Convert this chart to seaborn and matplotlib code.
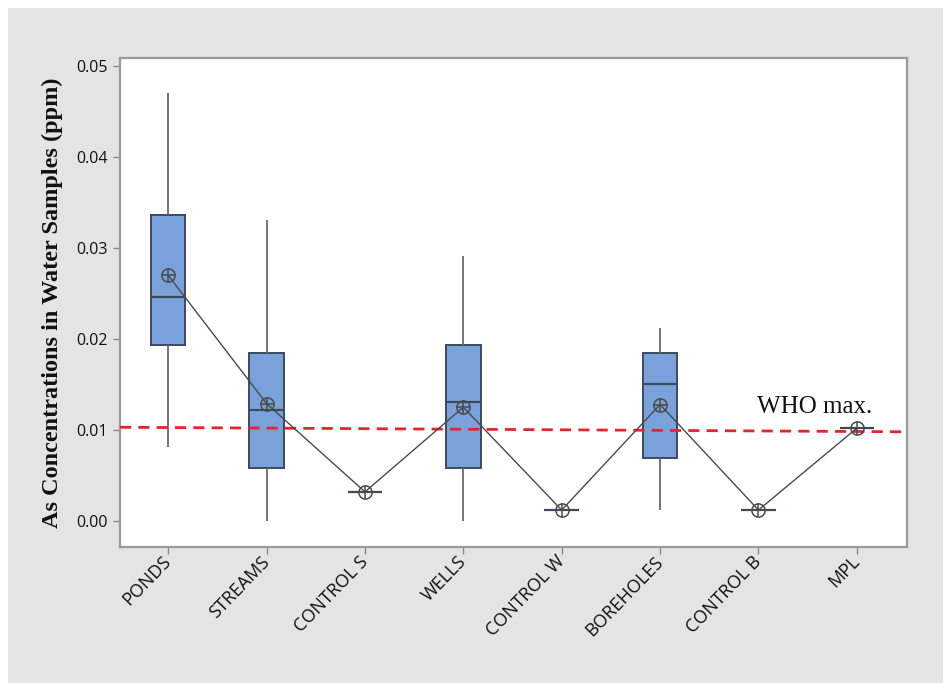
import numpy as np
import pandas as pd
import matplotlib
matplotlib.use("Agg")
import matplotlib.pyplot as plt
import matplotlib.transforms as mtransforms
from matplotlib.patches import Rectangle
import seaborn as sns

# Sampling sites
categories = ["PONDS", "STREAMS", "CONTROL S", "WELLS", "CONTROL W",
              "BOREHOLES", "CONTROL B", "MPL"]

# Five-number summaries of As concentration (ppm) per site
lower = [0.0081, 0.0000, 0.0032, 0.0000, 0.0012, 0.0012, 0.0012, 0.0102]
q1 = [0.0193, 0.0058, 0.0032, 0.0058, 0.0012, 0.0069, 0.0012, 0.0102]
median = [0.0246, 0.0122, 0.0032, 0.0131, 0.0012, 0.0151, 0.0012, 0.0102]
q3 = [0.0336, 0.0185, 0.0032, 0.0193, 0.0012, 0.0185, 0.0012, 0.0102]
upper = [0.0470, 0.0331, 0.0032, 0.0291, 0.0012, 0.0212, 0.0012, 0.0102]

# Site means
means = [0.0270, 0.0129, 0.0032, 0.0125, 0.0012, 0.0128, 0.0012, 0.0102]

# WHO maximum permissible level, as drawn across the panel (left, right)
who_line = [0.0103, 0.0098]
who_label = "WHO max."

yticks = [0.00, 0.01, 0.02, 0.03, 0.04, 0.05]
ylabel = "As Concentrations in Water Samples (ppm)"

# Long table: five quantile points per site reproduce the box and whiskers
rows = []
for i, site in enumerate(categories):
    for v in (lower[i], q1[i], median[i], q3[i], upper[i]):
        rows.append({"site": site, "conc": v})
df = pd.DataFrame(rows)

sns.set_style("white")
fig = plt.figure(figsize=(9.43, 6.83), dpi=100, facecolor="white")
fig.patches.append(Rectangle((8 / 943, 0), 1, 1 - 8 / 683,
                             transform=fig.transFigure, facecolor="#e4e4e4",
                             edgecolor="none", zorder=-10))
ax = fig.add_axes([120 / 943, 1 - 547 / 683, (907 - 120) / 943, (547 - 58) / 683])
ax.set_facecolor("white")

box_fill = "#79a2da"
box_edge = "#3c4a60"
sns.boxplot(data=df, x="site", y="conc", order=categories, ax=ax,
            whis=(0, 100), width=0.35, color=box_fill, saturation=1,
            linecolor=box_edge, linewidth=1.4, fliersize=0,
            whiskerprops={"color": "#6a6a6a", "linewidth": 1.3},
            capprops={"linewidth": 0},
            medianprops={"color": box_edge, "linewidth": 1.6})

# WHO reference line
ax.plot([-0.49, 7.51], who_line, color="#e8232b", linewidth=2.0,
        dashes=(4, 2.6), zorder=4)
ax.text(5.99, 0.01187, who_label, family="Liberation Serif", fontsize=18,
        color="#111111", ha="left", va="baseline")

# Connected means, circle-plus symbol
sns.pointplot(x=categories, y=means, order=categories, ax=ax, color="#4a4a4a",
              markers="o", markersize=9.5, markerfacecolor="none",
              markeredgewidth=1.1, linewidth=1.0, errorbar=None, zorder=6)
sns.pointplot(x=categories, y=means, order=categories, ax=ax, color="#4a4a4a",
              markers="+", markersize=9.5, markeredgewidth=1.1,
              linestyle="none", errorbar=None, zorder=7)

ax.set_xlim(-0.49, 7.51)
ax.set_ylim(-0.00286, 0.05088)
ax.set_yticks(yticks)
ax.set_yticklabels([f"{t:.2f}" for t in yticks], family="Open Sans",
                   fontsize=11.5, color="#111111")
ax.set_xticks(range(len(categories)))
ax.set_xticklabels(categories, family="Open Sans", fontsize=13,
                   color="#111111", rotation=46, ha="right",
                   rotation_mode="anchor", va="center")
offset = mtransforms.ScaledTranslation(-2 / 100, -15 / 100, fig.dpi_scale_trans)
for lab in ax.get_xticklabels():
    lab.set_transform(lab.get_transform() + offset)

ax.set_xlabel("")
ax.set_ylabel(ylabel, family="Liberation Serif", fontweight="bold",
              fontsize=17.5, color="#111111", labelpad=10)

ax.tick_params(axis="both", direction="out", length=5, width=1,
               color="#8a8a8a", left=True, bottom=True)
for s in ax.spines.values():
    s.set_color("#9a9a9a")
    s.set_linewidth(1.6)

fig.savefig("out.png", dpi=100, facecolor="white")
